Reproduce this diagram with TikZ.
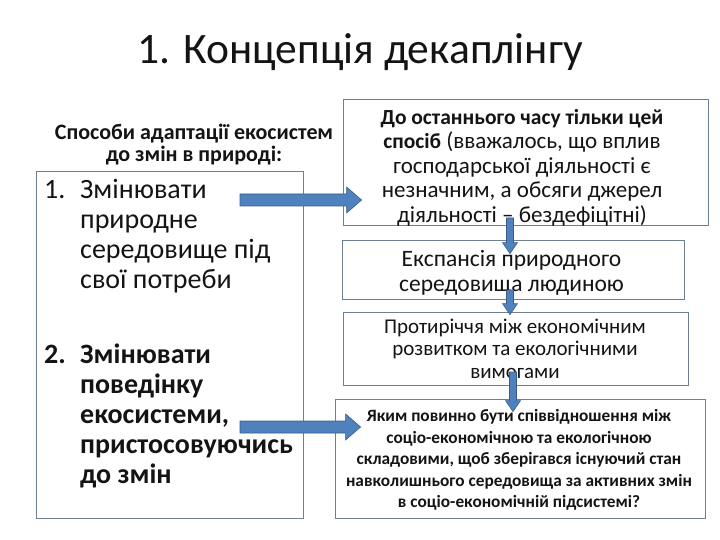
\documentclass[tikz,border=0pt]{standalone}
\usepackage{fontspec}
\setmainfont{Carlito}
\usetikzlibrary{calc}
\definecolor{arrowfill}{RGB}{79,129,189}
\definecolor{arrowedge}{RGB}{56,93,138}
\definecolor{boxedge}{RGB}{110,128,146}
\definecolor{txt}{RGB}{20,20,20}
\tikzset{
  box/.style={draw=boxedge, line width=0.8pt, fill=white, inner sep=0pt},
  boxtext/.style={inner sep=0pt, align=flush center, text=txt},
  arrowsty/.style={fill=arrowfill, draw=arrowedge, line width=0.6pt, line join=miter},
  itemtext/.style={anchor=base west, inner sep=0pt, align=flush left, text=txt}
}
\newcommand\myHarrow[2]{\path let \p1=(#1), \p2=(#2) in [arrowsty] (\x1,\y1+6pt) -- (\x2-15pt,\y1+6pt) -- (\x2-15pt,\y1+13pt) -- (\x2,\y1) -- (\x2-15pt,\y1-13pt) -- (\x2-15pt,\y1-6pt) -- (\x1,\y1-6pt) -- cycle;}
\newcommand\myVarrow[2]{\path let \p1=(#1), \p2=(#2) in [arrowsty] (\x1-3.5pt,\y1) -- (\x1-3.5pt,\y2+11pt) -- (\x1-7.5pt,\y2+11pt) -- (\x1,\y2) -- (\x1+7.5pt,\y2+11pt) -- (\x1+3.5pt,\y2+11pt) -- (\x1+3.5pt,\y1) -- cycle;}
\begin{document}
\begin{tikzpicture}[x=1pt,y=-1pt]
\useasboundingbox[fill=white] (0,0) rectangle (720,540);
% title
\node[text=txt, inner sep=0pt, font=\fontsize{43.5}{48}\selectfont] (title) at (360,52) {1. Концепція декаплінгу};
% left label
\node[text=txt, inner sep=0pt, align=flush center, font=\fontsize{22}{22}\selectfont\bfseries] (lbl) at (194,145) {Способи адаптації екосистем\\ до змін в природі:};
% left box
\node[box, minimum width=267pt, minimum height=347pt] (lbox) at (169.5,344.5) {};
\node[itemtext, font=\fontsize{28}{30}\selectfont] (n1) at (44,199) {1.};
\node[itemtext, text width=220pt, font=\fontsize{28}{30}\selectfont] (i1) at (80,199) {Змінювати\\ природне\\ середовище під\\ свої потреби};
\node[itemtext, font=\fontsize{28}{30}\selectfont\bfseries] (n2) at (44,363) {2.};
\node[itemtext, text width=220pt, font=\fontsize{28}{30}\selectfont\bfseries] (i2) at (80,363) {Змінювати\\ поведінку\\ екосистеми,\\ пристосовуючись\\ до змін};
% right boxes
\node[box, minimum width=365pt, minimum height=126pt] (b1) at (525.5,162) {};
\node[boxtext, font=\fontsize{23}{24.5}\selectfont] (t1) at (522,167.5)
  {{\fontsize{21.5}{24.5}\selectfont\bfseries До останнього часу тільки цей}\\ {\fontsize{21.5}{24.5}\selectfont\bfseries спосіб} (вважалось, що вплив\\ господарської діяльності є\\ незначним, а обсяги джерел\\ діяльності – бездефіцітні)};
\node[box, minimum width=342pt, minimum height=59pt] (b2) at (513,269.5) {};
\node[boxtext, font=\fontsize{23.5}{25}\selectfont] (t2) at (511.5,272.5)
  {Експансія природного\\ середовища людиною};
\node[box, minimum width=345pt, minimum height=73pt] (b3) at (515.5,348.5) {};
\node[boxtext, font=\fontsize{21}{22.5}\selectfont] (t3) at (515,348.5)
  {Протиріччя між економічним\\ розвитком та екологічними\\ вимогами};
\node[box, minimum width=370pt, minimum height=119pt] (b4) at (520,458.5) {};
\node[boxtext, font=\fontsize{17.3}{21.5}\selectfont\bfseries] (t4) at (519,460)
  {Яким повинно бути співвідношення між\\ соціо-економічною та екологічною\\ складовими, щоб зберігався існуючий стан\\ навколишнього середовища за активних змін\\ в соціо-економічній  підсистемі?};
% connectors
\coordinate (a1s) at (240,200);
\coordinate (a1e) at ($(b1.west |- a1s)+(19,0)$);
\myHarrow{a1s}{a1e}
\coordinate (a2s) at (240,427);
\coordinate (a2e) at ($(b4.west |- a2s)+(26,0)$);
\myHarrow{a2s}{a2e}
\coordinate (v1s) at (510,218);
\coordinate (v1e) at ($(v1s |- b2.north)+(0,14)$);
\myVarrow{v1s}{v1e}
\coordinate (v2s) at (510,290);
\coordinate (v2e) at ($(v2s |- b3.north)+(0,3)$);
\myVarrow{v2s}{v2e}
\coordinate (v3s) at (513,372);
\coordinate (v3e) at ($(v3s |- b4.north)+(0,13)$);
\myVarrow{v3s}{v3e}
\end{tikzpicture}
\end{document}
